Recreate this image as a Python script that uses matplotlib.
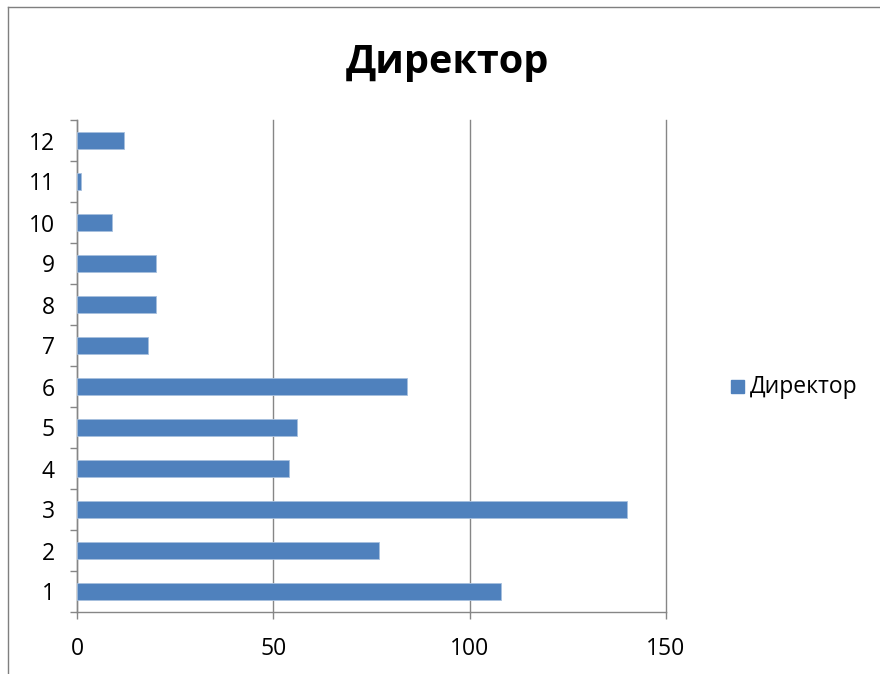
import numpy as np
import matplotlib
matplotlib.use("Agg")
import matplotlib.pyplot as plt
from matplotlib.lines import Line2D

# data
categories = ['1', '2', '3', '4', '5', '6', '7', '8', '9', '10', '11', '12']
values = [108, 77, 140, 54, 56, 84, 18, 20, 20, 9, 1, 12]
series_name = 'Директор'
x_ticks = [0, 50, 100, 150]

W, H = 880, 674
bar_color = '#4F81BD'
grid_color = '#868686'
font = ['Open Sans', 'DejaVu Sans']

plt.rcParams['font.family'] = font

fig = plt.figure(figsize=(W / 100, H / 100), dpi=100)
fig.patch.set_facecolor('white')

# plot area in pixel units
left, right, top, bottom = 77, 666, 120, 612
ax = fig.add_axes([left / W, 1 - bottom / H, (right - left) / W, (bottom - top) / H])

pos = np.arange(len(categories))
ax.barh(pos, values, height=0.4, color=bar_color, edgecolor='#A7C0DE', linewidth=0.6, zorder=3)

ax.set_xlim(0, 150)
ax.set_ylim(-0.5, len(categories) - 0.5)

ax.set_xticks(x_ticks)
ax.set_xticklabels([str(t) for t in x_ticks], fontsize=16.5)
ax.set_yticks(pos)
ax.set_yticklabels(categories, fontsize=16.5)
ax.set_yticks(np.arange(len(categories) + 1) - 0.5, minor=True)

ax.tick_params(axis='y', which='major', length=0, pad=16)
ax.tick_params(axis='y', which='minor', length=5, width=1, color=grid_color, direction='out')
ax.tick_params(axis='x', which='major', length=5, width=1, color=grid_color, direction='out', pad=13)

ax.grid(axis='x', color=grid_color, linewidth=1, zorder=0)
for gl in ax.get_xgridlines():
    gl.set_clip_on(False)
for side in ['top', 'right']:
    ax.spines[side].set_visible(False)
for side in ['left', 'bottom']:
    ax.spines[side].set_color(grid_color)
    ax.spines[side].set_linewidth(1)

# title and legend
fig.text(447 / W, 1 - 62 / H, series_name, fontsize=28.5, fontweight='bold', ha='center', va='center')
fig.patches.append(plt.Rectangle((731 / W, 1 - 393 / H), 13 / W, 13 / H,
                                 transform=fig.transFigure, color=bar_color))
fig.text(750 / W, 1 - 387 / H, series_name, fontsize=16.5, ha='left', va='center')

# chart frame (only left and top edges visible)
fig.lines.append(Line2D([8 / W, 8 / W], [0, 1 - 7 / H], transform=fig.transFigure, color='#7F7F7F', linewidth=1))
fig.lines.append(Line2D([8 / W, 1], [1 - 7 / H, 1 - 7 / H], transform=fig.transFigure, color='#7F7F7F', linewidth=1))

fig.savefig('out.png', dpi=100)
